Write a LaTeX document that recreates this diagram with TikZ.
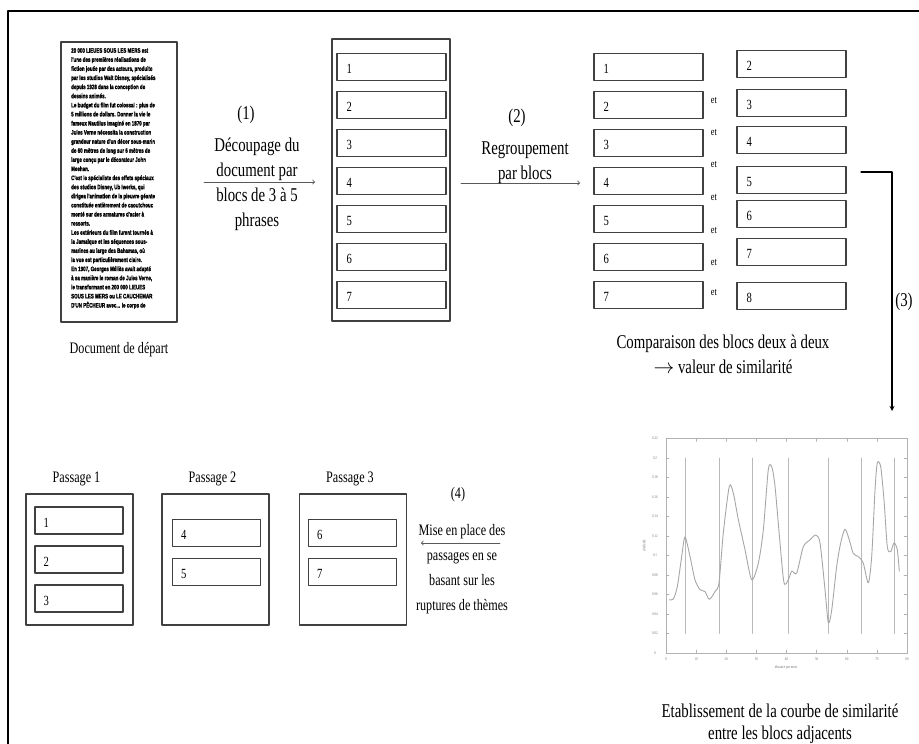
\documentclass[tikz,border=0pt]{standalone}
\usepackage{fontspec}
\setmainfont[FakeStretch=0.76]{Liberation Serif}
\newfontfamily\docfont[FakeStretch=0.69,FakeBold=1.5]{Liberation Sans}
\begin{document}
\begin{tikzpicture}[x=1pt,y=-1pt,line join=round,line cap=round,>=stealth]
	\tikzset{every node/.style={inner sep=0pt},
		bloc/.style={draw=black!75,line width=1.1pt,minimum width=109pt,minimum height=27pt},
		cadre/.style={draw=black!75,line width=1.1pt},
		grand/.style={font=\fontsize{19.5}{25}\selectfont,align=center},
		moyen/.style={font=\fontsize{16}{25}\selectfont,align=center},
		num/.style={font=\fontsize{14}{14}\selectfont},
		et/.style={font=\fontsize{11}{11}\selectfont},
		minus/.style={font=\fontsize{4.2}{4.2}\selectfont,text=black!55},
		fleche/.style={-to,gray!70!black,line width=0.8pt}}
	\useasboundingbox (0,0) rectangle (919,744);
	\draw[line width=2pt] (8,744)--(8,10.5)--(919,10.5);
	% document de depart
	\node[cadre,minimum width=116pt,minimum height=280pt] (doc) at (119,182) {};
	\node[anchor=north west,align=left,font=\docfont\bfseries\fontsize{6.5}{9.1}\selectfont] (doctxt) at (71,48) {20 000 LIEUES SOUS LES MERS est\\l'une des premières réalisations de\\fiction jouée par des acteurs, produite\\par les studios Walt Disney, spécialisés\\depuis 1928 dans la conception de\\dessins animés.\\Le budget du film fut colossal : plus de\\5 millions de dollars. Donner la vie le\\fameux Nautilus imaginé en 1870 par\\Jules Verne nécessita la construction\\grandeur nature d'un décor sous-marin\\de 60 mètres de long sur 6 mètres de\\large conçu par le décorateur John\\Meehan.\\C'est le spécialiste des effets spéciaux\\des studios Disney, Ub Iwerks, qui\\dirigea l'animation de la pieuvre géante\\constituée entièrement de caoutchouc\\monté sur des armatures d'acier à\\ressorts.\\Les extérieurs du film furent tournés à\\la Jamaïque et les séquences sous-\\marines au large des Bahamas, où\\la vue est particulièrement claire.\\En 1907, Georges Méliès avait adapté\\à sa manière le roman de Jules Verne,\\le transformant en 200 000 LIEUES\\SOUS LES MERS ou LE CAUCHEMAR\\D'UN PÊCHEUR avec... le corps de};
	\node[moyen] (depart) at (119,350) {Document de départ};
	% (1) decoupage
	\coordinate (f1a) at (204,182);
	\coordinate (f1b) at (315,182);
	\draw[fleche] (f1a)--(f1b);
	\node[grand] (e1) at (246,115) {(1)};
	\node[grand] (t1) at (257,184) {Découpage du\\document par\\blocs de 3 à 5\\phrases};
	\node[cadre,minimum width=118pt,minimum height=282pt] (col) at (391,180) {};
	\foreach \i in {1,...,7}{
		\node[bloc] (c\i) at (391.5,{67+(\i-1)*38}) {};
		\node[num,anchor=west] (nc\i) at ([xshift=10pt,yshift=-2pt]c\i.west) {\i};
	}
	% (2) regroupement
	\coordinate (f2a) at (461,183);
	\coordinate (f2b) at (580,183);
	\draw[fleche] (f2a)--(f2b);
	\node[grand] (e2) at (517,118) {(2)};
	\node[grand] (t2) at (525,162.5) {Regroupement\\par blocs};
	\foreach \i in {1,...,7}{
		\node[bloc] (a\i) at (648.5,{67+(\i-1)*38}) {};
		\node[num,anchor=west] (na\i) at ([xshift=10pt,yshift=-2pt]a\i.west) {\i};
	}
	\foreach \i/\y in {2/64,3/103,4/140,5/180,6/214,7/252,8/296}{
		\node[bloc] (b\i) at (791.5,\y) {};
		\node[num,anchor=west] (nb\i) at ([xshift=10pt,yshift=-2pt]b\i.west) {\i};
	}
	\foreach \y [count=\k] in {100,132,164,197,230,262,292}
	\node[et] (et\k) at (714,\y) {et};
	\node[grand] (t3) at (723,354.5) {Comparaison des blocs deux à deux\\$\rightarrow$ valeur de similarité};
	% (3) courbe
	\coordinate (f3a) at (861,172);
	\coordinate (f3b) at (892,411);
	\draw[->,line width=1.2pt] (f3a) -| (f3b);
	\node[grand] (e3) at (904,302) {(3)};
	\begin{scope}[shift={(666,653)},x=1pt,y=975pt]
		\draw[gray!60,line width=0.6pt] (0,0) rectangle (241,0.22);
		\foreach \v [count=\k] in {0,0.02,0.04,0.06,0.08,0.1,0.12,0.14,0.16,0.18,0.2,0.22}{
			\draw[gray!60,line width=0.5pt] (0,\v)--(3,\v) (241,\v)--(238,\v);
			\node[minus] (ly\k) at (-11,\v) {\v};
		}
		\foreach \v [count=\k] in {0,10,...,80}{
			\draw[gray!60,line width=0.5pt] ({\v*3.0125},0)--({\v*3.0125},0.003) ({\v*3.0125},0.22)--({\v*3.0125},0.217);
			\node[minus] (lx\k) at ({\v*3.0125},-0.0065) {\v};
		}
		\node[minus] (lx) at (120,-0.015) {distance par mots};
		\node[minus,rotate=90] (lyt) at (-22,0.11) {similarité};
		\foreach \v in {19,53,86.7,122,162.3,195.7,228}
		\draw[gray!55,line width=0.9pt] (\v,0.02)--(\v,0.2);
		\draw[gray!70,line width=0.9pt] plot[smooth,tension=0.45] coordinates {(3.3,.0546) (7.3,.0553) (11.3,.068) (15.7,.099) (19,.119) (24,.099) (29,.075) (34,.065) (39,.063) (43.3,.055) (49,.063) (53,.072) (57.3,.123) (63.3,.171) (67.3,.164) (72.3,.137) (79,.106) (85.7,.075) (92.3,.092) (97.3,.126) (102.3,.188) (105.7,.191) (109,.171) (114,.113) (118,.072) (122.3,.075) (125.7,.084) (130.7,.082) (137.3,.109) (144,.116) (149.7,.121) (154,.113) (159,.065) (162.3,.031) (165.7,.044) (170.7,.089) (174.7,.113) (179,.127) (183.3,.116) (187.3,.102) (192.3,.099) (197.3,.092) (202.3,.072) (205.7,.099) (209,.167) (211.3,.195) (214.7,.191) (218,.157) (221.3,.109) (224.7,.104) (228,.113) (231.3,.106) (233.3,.084)};
	\end{scope}
	\node[grand,font=\fontsize{19.5}{22}\selectfont] (t5) at (780,724) {Etablissement de la courbe de similarité\\entre les blocs adjacents};
	% (4) passages
	\foreach \p/\x in {1/79.5,2/215.5,3/353}{
		\node[cadre,minimum width=107pt,minimum height=131pt] (p\p) at (\x,559.5) {};
		\node[moyen] (lp\p) at ({\x-3},479) {Passage \p};
	}
	\foreach \i/\x/\y in {1/79/520.5,2/79/559.5,3/79/598.5,4/216.5/533,5/216.5/572,6/352.5/533,7/352.5/572}{
		\node[bloc,minimum width=88pt] (q\i) at (\x,\y) {};
		\node[num,anchor=west] (nq\i) at ([xshift=9pt,yshift=-2pt]q\i.west) {\i};
	}
	\coordinate (f4a) at (500,543);
	\coordinate (f4b) at (421,543);
	\draw[fleche] (f4a)--(f4b);
	\node[moyen] (e4) at (458,495) {(4)};
	\begin{scope}
		\clip (410,515) rectangle (509,625);
		\node[moyen] (t4) at (462,569.5) {Mise en place des\\passages en se\\basant sur les\\ruptures de thèmes};
	\end{scope}
\end{tikzpicture}
\end{document}
